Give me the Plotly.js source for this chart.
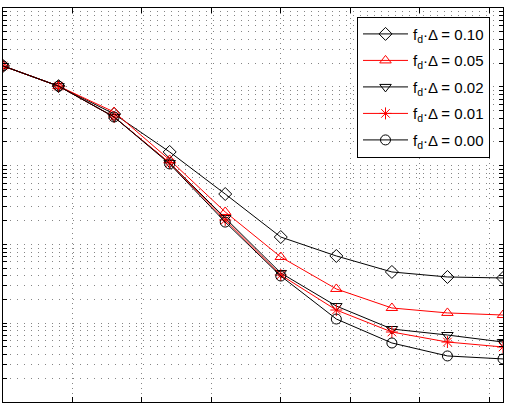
<!DOCTYPE html>
<html>
<head>
<meta charset="utf-8">
<script src="https://cdn.plot.ly/plotly-3.0.1.min.js"></script>
<style>html,body{margin:0;padding:0;background:#fff;}#chart{width:509px;height:405px;}</style>
</head>
<body>
<div id="chart"></div>
<script>
var xValues = [0, 2, 4, 6, 8, 10, 12, 14, 16, 18];
var seriesNames = ["f<sub>d</sub>·Δ = 0.10", "f<sub>d</sub>·Δ = 0.05", "f<sub>d</sub>·Δ = 0.02", "f<sub>d</sub>·Δ = 0.01", "f<sub>d</sub>·Δ = 0.00"];
var fd010 = [0.184, 0.102, 0.0452, 0.0149, 0.00436, 0.00124, 0.000713, 0.000447, 0.000386, 0.000375];
var fd005 = [0.184, 0.102, 0.0479, 0.0118, 0.00258, 0.000692, 0.000272, 0.000156, 0.000135, 0.000127];
var fd002 = [0.184, 0.102, 0.0414, 0.0108, 0.00216, 0.000434, 0.000165, 0.0000844, 0.0000708, 0.0000577];
var fd001 = [0.184, 0.102, 0.0414, 0.0108, 0.00204, 0.000409, 0.000147, 0.0000773, 0.0000577, 0.0000499];
var fd000 = [0.184, 0.102, 0.0414, 0.0105, 0.00192, 0.000397, 0.000113, 0.0000561, 0.0000384, 0.0000352];

var ySeries = [fd010, fd005, fd002, fd001, fd000];
var colors = ["#000000", "#ff0000", "#000000", "#ff0000", "#000000"];
var symbols = ["diamond-open", "triangle-up-open", "triangle-down-open", "asterisk-open", "circle-open"];

var traces = ySeries.map(function (ys, i) {
  return {
    x: xValues, y: ys, name: seriesNames[i], type: "scatter", mode: "lines+markers",
    legendgroup: "g" + i,
    line: {color: colors[i], width: 1},
    marker: {symbol: symbols[i], size: 10, color: colors[i], line: {color: colors[i], width: 1}}
  };
});

var gridCol = "#858585";
var layout = {
  width: 509, height: 405,
  margin: {l: 3, r: 6, t: 8, b: 3},
  paper_bgcolor: "#ffffff", plot_bgcolor: "#ffffff",
  font: {family: "Liberation Sans, Arial, sans-serif", size: 15, color: "#000"},
  showlegend: true,
  legend: {
    x: 0.974, y: 0.978, xanchor: "right", yanchor: "top",
    bgcolor: "#ffffff", bordercolor: "#000000", borderwidth: 1,
    itemwidth: 45, tracegroupgap: 4,
    font: {family: "Liberation Sans, Arial, sans-serif", size: 15, color: "#000"}
  },
  xaxis: {
    range: [0, 18], tick0: 0, dtick: 2.5, showticklabels: false,
    ticks: "inside", ticklen: 5, tickcolor: "#000",
    showline: true, linecolor: "#000", linewidth: 1, mirror: "ticks",
    showgrid: true, gridcolor: gridCol, griddash: "1px,4px", gridwidth: 1, zeroline: false
  },
  yaxis: {
    type: "log", range: [-5, 0], dtick: "D1", showticklabels: false,
    ticks: "inside", ticklen: 4, tickcolor: "#000",
    showline: true, linecolor: "#000", linewidth: 1, mirror: "ticks",
    showgrid: true, gridcolor: gridCol, griddash: "1px,6px", gridwidth: 1, zeroline: false
  }
};

Plotly.newPlot("chart", traces, layout, {displayModeBar: false, staticPlot: true});
</script>
</body>
</html>
